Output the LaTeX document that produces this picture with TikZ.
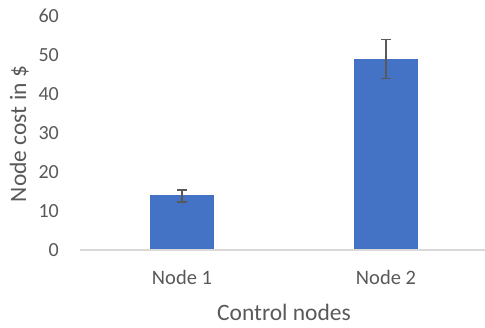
\documentclass[tikz,border=0pt]{standalone}
\usepackage{fontspec}
\setmainfont{Carlito}
\usepackage{xcolor}
\definecolor{barblue}{HTML}{4472C4}
\definecolor{axisgrey}{HTML}{D9D9D9}
\definecolor{labelgrey}{HTML}{595959}

\begin{document}
\begin{tikzpicture}[x=1pt, y=1pt,
  ticklabel/.style={anchor=east, inner sep=0pt, text=labelgrey, font=\fontsize{20}{24}\selectfont},
  catlabel/.style={anchor=base, inner sep=0pt, text=labelgrey, font=\fontsize{20.5}{24}\selectfont},
  axistitle/.style={anchor=base, inner sep=0pt, text=labelgrey, font=\fontsize{23.5}{28}\selectfont},
  errbar/.style={draw=labelgrey, line width=1.3pt}]
  \useasboundingbox (0,0) rectangle (485,327);

  % Bars with error bars
  \foreach \i/\x/\h/\lo/\hi in {1/182/14/12.3/15.4, 2/386/49/44/54} {
    \fill[barblue] (\x-32,77) rectangle (\x+32,{77+3.9*\h});
    \draw[errbar] (\x,{77+3.9*\lo}) -- (\x,{77+3.9*\hi});
    \draw[errbar] (\x-5,{77+3.9*\lo}) -- (\x+5,{77+3.9*\lo});
    \draw[errbar] (\x-5,{77+3.9*\hi}) -- (\x+5,{77+3.9*\hi});
    \node[catlabel] (cat\i) at (\x,42.5) {Node \i};
  }

  % Axis line
  \draw[axisgrey, line width=1.3pt] (80,77) -- (485,77);

  % Tick labels
  \foreach \v in {0,10,...,60}
    \node[ticklabel] (tick\v) at (59,{77+3.9*\v}) {\v};

  % Axis titles
  \node[axistitle] (xtitle) at (284,7) {Control nodes};
  \node[axistitle, rotate=90] (ytitle) at (26,193) {Node cost in \$};
\end{tikzpicture}
\end{document}
